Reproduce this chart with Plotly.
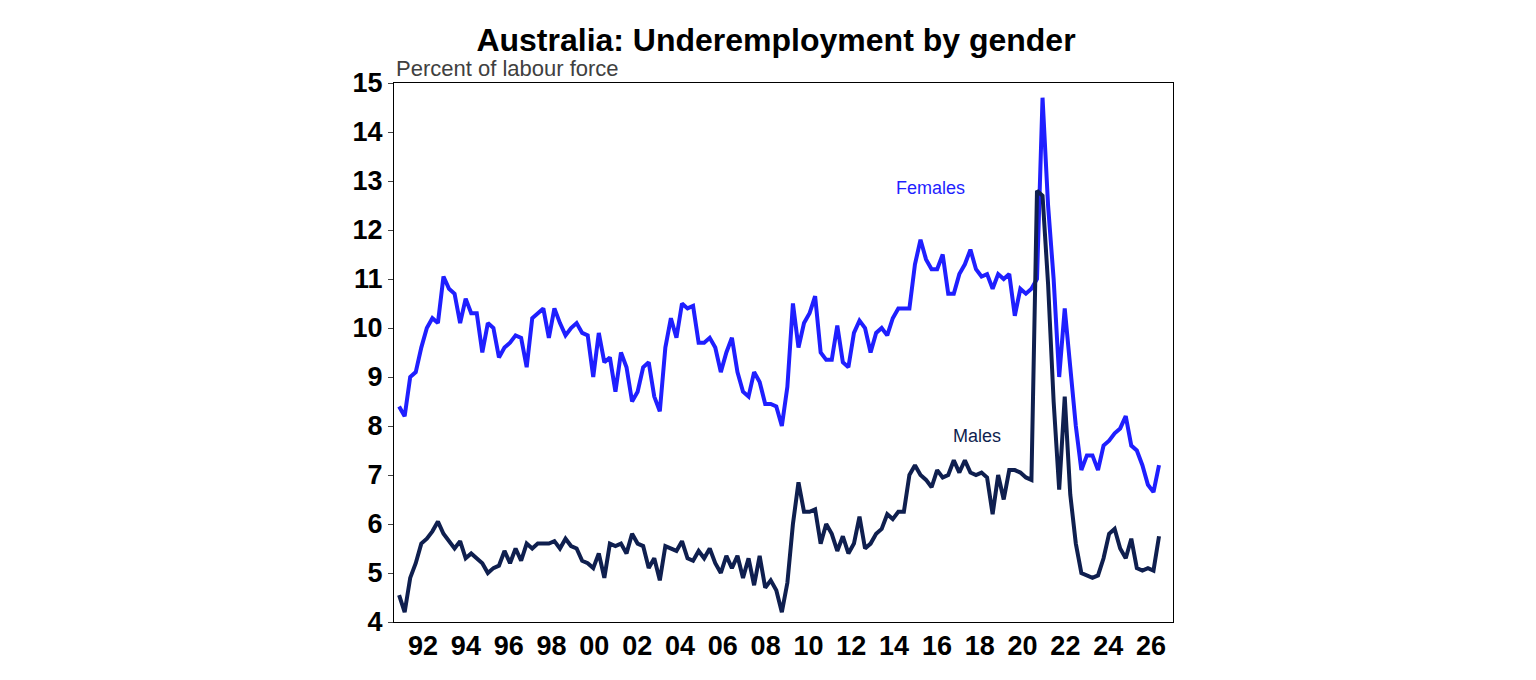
import plotly.graph_objects as go

# quarterly observations starting 1991 Q2
start_year = 1991.25
females = [8.4, 8.2, 9.0, 9.1, 9.6, 10.0, 10.2, 10.1, 11.05, 10.8, 10.7, 10.1, 10.6, 10.3, 10.3, 9.5,
           10.1, 10.0, 9.4, 9.6, 9.7, 9.85, 9.8, 9.2, 10.2, 10.3, 10.4, 9.8, 10.4, 10.1, 9.85, 10.0,
           10.1, 9.9, 9.85, 9.0, 9.9, 9.3, 9.4, 8.7, 9.5, 9.2, 8.5, 8.7, 9.2, 9.3, 8.6, 8.3,
           9.6, 10.2, 9.8, 10.5, 10.4, 10.45, 9.7, 9.7, 9.8, 9.6, 9.1, 9.5, 9.8, 9.1, 8.7, 8.6,
           9.1, 8.9, 8.45, 8.45, 8.4, 8.0, 8.8, 10.5, 9.6, 10.1, 10.3, 10.65, 9.5, 9.35, 9.35, 10.05,
           9.3, 9.2, 9.9, 10.15, 10.0, 9.5, 9.9, 10.0, 9.85, 10.2, 10.4, 10.4, 10.4, 11.3, 11.8, 11.4,
           11.2, 11.2, 11.5, 10.7, 10.7, 11.1, 11.3, 11.6, 11.2, 11.05, 11.1, 10.8, 11.1, 11.0, 11.1, 10.25,
           10.8, 10.7, 10.8, 11.0, 14.7, 12.5, 11.0, 9.0, 10.4, 9.2, 8.0, 7.1, 7.4, 7.4, 7.1, 7.6,
           7.7, 7.85, 7.95, 8.2, 7.6, 7.5, 7.2, 6.8, 6.65, 7.2]
males = [4.55, 4.2, 4.9, 5.2, 5.6, 5.7, 5.85, 6.05, 5.8, 5.65, 5.5, 5.65, 5.3, 5.4, 5.3, 5.2,
         5.0, 5.1, 5.15, 5.45, 5.2, 5.5, 5.25, 5.6, 5.5, 5.6, 5.6, 5.6, 5.65, 5.5, 5.7, 5.55,
         5.5, 5.25, 5.2, 5.1, 5.4, 4.9, 5.6, 5.55, 5.6, 5.4, 5.8, 5.6, 5.55, 5.1, 5.3, 4.85,
         5.55, 5.5, 5.45, 5.65, 5.3, 5.25, 5.45, 5.3, 5.5, 5.2, 5.0, 5.35, 5.1, 5.35, 4.9, 5.3,
         4.75, 5.35, 4.7, 4.85, 4.65, 4.2, 4.8, 6.0, 6.85, 6.25, 6.25, 6.3, 5.6, 6.0, 5.8, 5.45,
         5.75, 5.4, 5.6, 6.15, 5.5, 5.6, 5.8, 5.9, 6.2, 6.1, 6.25, 6.25, 7.0, 7.2, 7.0, 6.9,
         6.75, 7.1, 6.95, 7.0, 7.3, 7.05, 7.3, 7.05, 7.0, 7.05, 6.95, 6.2, 7.0, 6.5, 7.1, 7.1,
         7.05, 6.95, 6.9, 12.8, 12.7, 10.9, 8.5, 6.7, 8.6, 6.6, 5.6, 5.0, 4.95, 4.9, 4.95, 5.3,
         5.8, 5.9, 5.5, 5.3, 5.7, 5.1, 5.05, 5.1, 5.05, 5.75]
tick_labels = ['92', '94', '96', '98', '00', '02', '04', '06', '08', '10', '12', '14', '16', '18', '20', '22', '24', '26']

x = [start_year + 0.25 * i for i in range(len(females))]
# label positions lined up with the reference axis
tick_vals = [1992.33 + 0.965 * 2 * i for i in range(len(tick_labels))]

fig = go.Figure()
fig.add_trace(go.Scatter(x=x, y=females, mode='lines', line=dict(color='#1f1fff', width=4)))
fig.add_trace(go.Scatter(x=x, y=males, mode='lines', line=dict(color='#0f1f4f', width=4)))

fig.add_annotation(x=2015.2, y=12.85, text='Females', showarrow=False, font=dict(size=18, color='#1f1fff'))
fig.add_annotation(x=2017.3, y=7.8, text='Males', showarrow=False, font=dict(size=18, color='#0f1f4f'))

fig.update_layout(
    title=dict(text='<b>Australia: Underemployment by gender</b>', x=0.5, xanchor='center', y=0.97,
               font=dict(size=32, color='black')),
    width=1536, height=680,
    margin=dict(l=386, r=371, t=75, b=66),
    plot_bgcolor='white', paper_bgcolor='white',
    font=dict(family='Arial, Liberation Sans, sans-serif'),
    showlegend=False,
    xaxis=dict(range=[1991.02, 2026.13], tickvals=tick_vals, ticktext=tick_labels,
               tickfont=dict(size=27, color='black', weight='bold'), showgrid=False,
               showline=True, mirror=True, linecolor='black', linewidth=1, ticks='', zeroline=False),
    yaxis=dict(range=[4, 15], dtick=1, tickfont=dict(size=27, color='black', weight='bold'),
               showgrid=False, showline=True, mirror=True, linecolor='black', linewidth=1,
               ticks='outside', ticklen=5, zeroline=False),
)
fig.add_annotation(x=0, y=1.0, xref='paper', yref='paper', xanchor='left', yanchor='bottom',
                   text='Percent of labour force', showarrow=False, font=dict(size=22, color='#404040'))

fig.write_html("out.html")
